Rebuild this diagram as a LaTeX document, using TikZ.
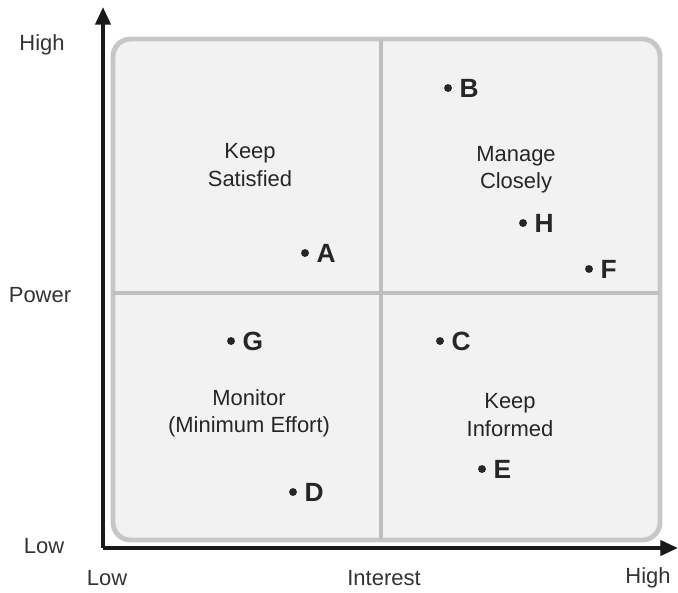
\documentclass[tikz,border=0pt]{standalone}
\usepackage{fontspec}
\setmainfont{Liberation Sans}
\usetikzlibrary{arrows.meta}
\begin{document}
\begin{tikzpicture}[x=0.02cm, y=-0.02cm, >={Triangle[length=10pt,width=8.5pt]},
  quad/.style={align=center, font=\fontsize{12.5}{15.5}\selectfont, text=black!85},
  pt/.style={circle, fill=black!85, inner sep=0pt, minimum size=4.5pt},
  tag/.style={font=\fontsize{15}{17}\selectfont\bfseries, text=black!85, inner sep=1pt},
  axlbl/.style={font=\fontsize{12.5}{14}\selectfont, text=black!80}]
  \useasboundingbox (0,0) rectangle (678,592);
  % grid
  \draw[line width=2.8pt, black!22, fill=black!5, rounded corners=10pt] (113,39) rectangle (660,540);
  \coordinate (vtop) at (381,39);
  \coordinate (vbot) at (381,540);
  \coordinate (hl) at (113,293);
  \coordinate (hr) at (660,293);
  \draw[line width=2.5pt, black!25] (vtop) -- (vbot);
  \draw[line width=2.5pt, black!25] (hl) -- (hr);
  % axes
  \coordinate (o) at (103,548);
  \coordinate (ytip) at (103,7);
  \coordinate (xtip) at (678,548);
  \draw[->, line width=2.2pt, black!90] (o) -- (ytip);
  \draw[->, line width=2.2pt, black!90] (o) -- (xtip);
  \node[axlbl] (yhigh) at (42,45) {High};
  \node[axlbl] (ypow) at (40,295) {Power};
  \node[axlbl] (ylow) at (44,546) {Low};
  \node[axlbl] (xlow) at (107,578) {Low};
  \node[axlbl] (xint) at (384,578) {Interest};
  \node[axlbl] (xhigh) at (648,578) {High};
  % quadrants
  \node[quad] (ks) at (250,165) {Keep\\Satisfied};
  \node[quad] (mc) at (516,170) {Manage\\Closely};
  \node[quad] (mo) at (249,413) {Monitor\\(Minimum Effort)};
  \node[quad] (ki) at (510,415) {Keep\\Informed};
  % stakeholders
  \node[pt, label={[tag, label distance=3pt]right:A}] (a) at (305,253) {};
  \node[pt, label={[tag, label distance=3pt]right:B}] (b) at (448,88) {};
  \node[pt, label={[tag, label distance=3pt]right:C}] (c) at (440,341) {};
  \node[pt, label={[tag, label distance=3pt]right:D}] (d) at (293,492) {};
  \node[pt, label={[tag, label distance=3pt]right:E}] (e) at (482,469) {};
  \node[pt, label={[tag, label distance=3pt]right:F}] (f) at (589,269) {};
  \node[pt, label={[tag, label distance=3pt]right:G}] (g) at (231,341) {};
  \node[pt, label={[tag, label distance=3pt]right:H}] (h) at (523,223) {};
\end{tikzpicture}
\end{document}
